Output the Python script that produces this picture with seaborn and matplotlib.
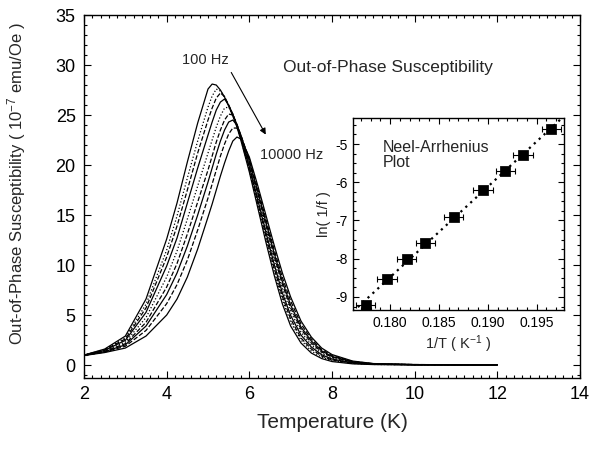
import numpy as np
import pandas as pd
import matplotlib
matplotlib.use("Agg")
import matplotlib.pyplot as plt
from matplotlib.ticker import MultipleLocator, FormatStrFormatter
import seaborn as sns

# temperature grid (K) shared by all frequency curves
temps = [2.0, 2.5, 3.0, 3.5, 4.0, 4.25, 4.5, 4.75, 5.0, 5.1, 5.2, 5.3, 5.4, 5.5,
         5.6, 5.7, 5.8, 6.0, 6.2, 6.4, 6.6, 6.8, 7.0, 7.25, 7.5, 7.75, 8.0, 8.5,
         9.0, 10.0, 11.0, 12.0]

# out-of-phase susceptibility (1e-7 emu/Oe)
chi_100 = [1.0, 1.6, 2.9, 6.6, 12.6, 16.2, 20.3, 24.2, 27.6, 28.1, 28.0, 27.5, 26.8, 25.9,
           24.9, 23.8, 22.4, 19.3, 15.8, 12.3, 9.0, 6.1, 3.9, 2.2, 1.2, 0.65, 0.35, 0.12,
           0.05, 0.02, 0.01, 0.01]
chi_200 = [0.99, 1.55, 2.73, 6.08, 11.5, 14.9, 18.7, 22.4, 25.8, 26.9, 27.6, 27.4, 26.8, 25.95,
           25.0, 23.9, 22.5, 19.5, 16.1, 12.7, 9.4, 6.5, 4.3, 2.5, 1.4, 0.8, 0.45, 0.16,
           0.06, 0.02, 0.01, 0.01]
chi_300 = [0.99, 1.52, 2.61, 5.71, 10.8, 13.9, 17.5, 21.2, 24.5, 25.7, 26.7, 27.2, 26.85, 26.0,
           25.05, 23.95, 22.6, 19.7, 16.3, 12.95, 9.7, 6.85, 4.6, 2.7, 1.6, 0.9, 0.5, 0.19,
           0.07, 0.03, 0.02, 0.01]
chi_500 = [0.98, 1.47, 2.47, 5.27, 9.9, 12.7, 16.2, 19.7, 23.0, 24.3, 25.5, 26.3, 26.6, 26.0,
           25.1, 24.0, 22.7, 19.85, 16.6, 13.3, 10.1, 7.2, 4.95, 3.0, 1.8, 1.03, 0.6, 0.22,
           0.09, 0.03, 0.02, 0.01]
chi_1000 = [0.98, 1.43, 2.30, 4.75, 8.8, 11.4, 14.6, 17.9, 21.2, 22.5, 23.8, 24.9, 25.7, 25.8,
            25.1, 24.05, 22.8, 20.05, 16.9, 13.65, 10.5, 7.65, 5.35, 3.3, 2.0, 1.18, 0.7, 0.26,
            0.1, 0.035, 0.02, 0.015]
chi_2000 = [0.97, 1.38, 2.14, 4.27, 7.8, 10.15, 13.1, 16.3, 19.5, 20.9, 22.3, 23.5, 24.5, 25.1,
            25.0, 24.1, 22.9, 20.25, 17.2, 14.0, 10.9, 8.05, 5.7, 3.6, 2.2, 1.31, 0.79, 0.3,
            0.11, 0.04, 0.02, 0.015]
chi_3000 = [0.96, 1.34, 2.02, 3.90, 7.05, 9.2, 11.9, 15.0, 18.3, 19.7, 21.1, 22.4, 23.5, 24.3,
            24.5, 24.0, 22.95, 20.4, 17.4, 14.3, 11.2, 8.35, 6.0, 3.8, 2.4, 1.42, 0.86, 0.32,
            0.12, 0.045, 0.025, 0.02]
chi_5000 = [0.96, 1.30, 1.88, 3.46, 6.14, 8.04, 10.5, 13.5, 16.7, 18.1, 19.5, 20.9, 22.1, 23.1,
            23.7, 23.7, 22.9, 20.6, 17.7, 14.6, 11.55, 8.75, 6.4, 4.1, 2.6, 1.55, 0.95, 0.36,
            0.14, 0.05, 0.03, 0.02]
chi_10000 = [0.95, 1.25, 1.70, 2.90, 5.0, 6.6, 8.8, 11.6, 14.8, 16.1, 17.5, 18.9, 20.2, 21.4,
             22.4, 22.8, 22.6, 20.8, 18.0, 15.0, 12.0, 9.2, 6.8, 4.4, 2.8, 1.7, 1.05, 0.4,
             0.15, 0.05, 0.03, 0.02]

freqs = [100, 200, 300, 500, 1000, 2000, 3000, 5000, 10000]
curves = [chi_100, chi_200, chi_300, chi_500, chi_1000, chi_2000, chi_3000, chi_5000, chi_10000]
styles = ['-', ':', '--', '-', ':', '--', '-', '--', '-']

# Neel-Arrhenius inset: 1/T of the peak (1/K) against ln(1/f)
inv_T = [0.1965, 0.1936, 0.1918, 0.1895, 0.1865, 0.1836, 0.1817, 0.1797, 0.1775]
inv_T_err = 0.001
ln_inv_f = list(np.log(1.0 / np.array(freqs, dtype=float)))

sns.set_style("ticks")
plt.rcParams['font.family'] = ['Liberation Sans', 'DejaVu Sans']
plt.rcParams['mathtext.fontset'] = 'custom'
plt.rcParams['mathtext.rm'] = 'Liberation Sans'
plt.rcParams['mathtext.it'] = 'Liberation Sans:italic'
plt.rcParams['axes.unicode_minus'] = False

fig = plt.figure(figsize=(6, 4.49), dpi=100)
ax = fig.add_axes([0.14, 0.158, 0.8267, 0.8085])

for chi, ls in zip(curves, styles):
    sns.lineplot(x=temps, y=chi, ax=ax, color='k', lw=0.9, linestyle=ls, sort=False)

ax.set_xlim(2, 14)
ax.set_ylim(-1.3, 35)
ax.xaxis.set_major_locator(MultipleLocator(2))
ax.xaxis.set_minor_locator(MultipleLocator(0.2))
ax.yaxis.set_major_locator(MultipleLocator(5))
ax.yaxis.set_minor_locator(MultipleLocator(1))
ax.tick_params(which='both', direction='in', top=True, right=True, width=0.8,
               labelsize=13, colors='k')
ax.tick_params(which='major', length=5, pad=6)
ax.tick_params(which='minor', length=2.5)
for sp in ax.spines.values():
    sp.set_linewidth(1.0)
    sp.set_color('k')
ax.set_xlabel('Temperature (K)', fontsize=15, labelpad=7)
ax.set_ylabel('Out-of-Phase Susceptibility ( 10$^{-7}$ emu/Oe )', fontsize=12)
ax.yaxis.set_label_coords(-0.112, 0.535)

ax.text(4.93, 30.5, '100 Hz', ha='center', va='center', fontsize=10.5)
ax.text(7.03, 21.0, '10000 Hz', ha='center', va='center', fontsize=10.5)
ax.annotate('', xy=(6.43, 22.8), xytext=(5.53, 29.5),
            arrowprops=dict(arrowstyle='-|>', color='k', lw=0.8, mutation_scale=9))
ax.text(6.82, 29.8, 'Out-of-Phase Susceptibility', ha='left', va='center', fontsize=12.5)

# inset
axin = fig.add_axes([0.5883, 0.3096, 0.3517, 0.4276])
axin.set_xlim(0.1762, 0.1978)
axin.set_ylim(-9.34, -4.32)
sns.regplot(x=inv_T, y=ln_inv_f, ax=axin, scatter=False, ci=None, truncate=False,
            line_kws=dict(color='k', linestyle=(0, (1, 2)), lw=1.6))
axin.errorbar(inv_T, ln_inv_f, xerr=inv_T_err, fmt='none', ecolor='k',
              elinewidth=0.8, capsize=2.5, capthick=0.8)
sns.scatterplot(x=inv_T, y=ln_inv_f, ax=axin, marker='s', s=45, color='k',
                edgecolor='k', zorder=3)
axin.set_xlim(0.1762, 0.1978)
axin.set_ylim(-9.34, -4.32)
axin.xaxis.set_major_locator(MultipleLocator(0.005))
axin.xaxis.set_minor_locator(MultipleLocator(0.001))
axin.xaxis.set_major_formatter(FormatStrFormatter('%.3f'))
axin.yaxis.set_major_locator(MultipleLocator(1))
axin.yaxis.set_minor_locator(MultipleLocator(0.25))
axin.yaxis.set_major_formatter(FormatStrFormatter('%d'))
axin.tick_params(which='both', direction='in', top=True, right=True, width=0.8,
                 labelsize=10, colors='k')
axin.tick_params(which='major', length=4, pad=4)
axin.tick_params(which='minor', length=2)
for sp in axin.spines.values():
    sp.set_linewidth(1.0)
    sp.set_color('k')
axin.set_xlabel('1/T ( K$^{-1}$ )', fontsize=10.5, labelpad=3)
axin.set_ylabel('ln( 1/f )', fontsize=10.5, labelpad=3)
axin.text(0.14, 0.885, 'Neel-Arrhenius\nPlot', transform=axin.transAxes,
          ha='left', va='top', fontsize=11.5, linespacing=1.0)

fig.savefig('out.png', dpi=100)
